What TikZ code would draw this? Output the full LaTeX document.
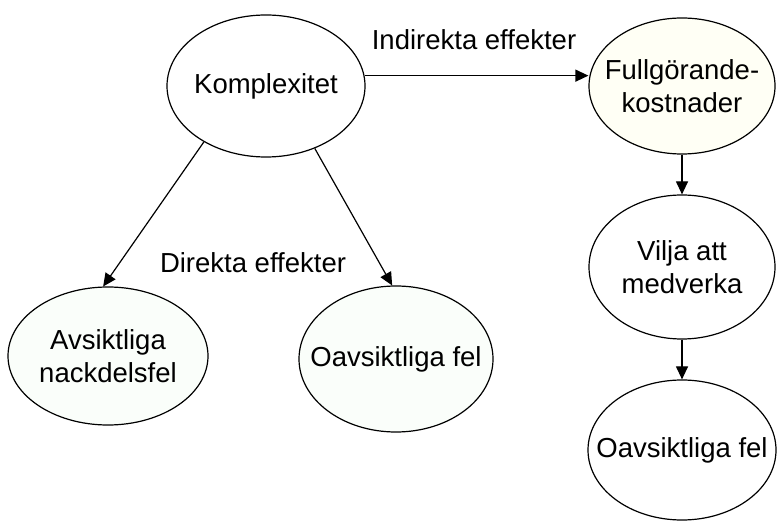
\documentclass[tikz,border=0pt]{standalone}
\usepackage{fontspec}
\setmainfont{Liberation Sans}
\usetikzlibrary{shapes.geometric,arrows.meta}
\definecolor{paleyellow}{RGB}{255,255,245}
\definecolor{palegreen}{RGB}{250,254,250}
% zero-width label so the ellipse keeps its given size
\newcommand{\zw}[1]{\makebox[0pt]{#1}}
\begin{document}
\begin{tikzpicture}[x=1pt,y=1pt,
  every node/.style={font=\fontsize{27.5}{33}\selectfont, align=center},
  bubble/.style={ellipse, draw, line width=1.2pt, inner sep=0pt, fill=white},
  link/.style={line width=1.2pt, -{Triangle[length=13pt,width=12pt]}},
  caption/.style={inner sep=1pt}]
\useasboundingbox (0,0) rectangle (778,522);

% causal chain nodes
\node[bubble, minimum width=198pt, minimum height=142pt] (k) at (266,436) {\zw{Komplexitet}};
\node[bubble, fill=paleyellow, minimum width=186pt, minimum height=136pt] (f) at (682,436) {\zw{Fullgörande-}\\\zw{kostnader}};
\node[bubble, minimum width=186pt, minimum height=144pt] (v) at (682,255) {\zw{Vilja att}\\\zw{medverka}};
\node[bubble, minimum width=188pt, minimum height=140pt] (o2) at (682,72) {\zw{Oavsiktliga fel}};
\node[bubble, fill=palegreen, minimum width=200pt, minimum height=138pt] (a) at (108,166) {\zw{Avsiktliga}\\\zw{nackdelsfel}};
\node[bubble, fill=palegreen, minimum width=194pt, minimum height=146pt] (o1) at (396,163) {\zw{Oavsiktliga fel}};

% effect labels
\node[caption] (ind) at (474,482) {Indirekta effekter};
\node[caption] (dir) at (253,259) {Direkta effekter};

% connectors
\draw[link] (k.6) -- (f.west |- k.6);
\draw[link] (k.222) -- (a.94);
\draw[link] (k.308) -- (o1.93);
\draw[link] (f.south) -- (v.north);
\draw[link] (v.south) -- (o2.north);
\end{tikzpicture}
\end{document}
